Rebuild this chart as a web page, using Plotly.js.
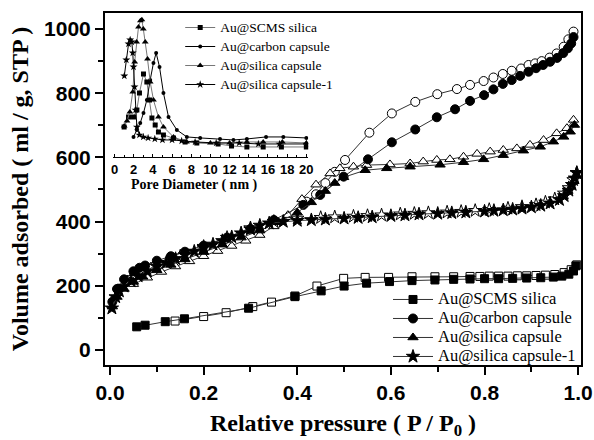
<!DOCTYPE html>
<html><head><meta charset="utf-8">
<script src="https://cdn.plot.ly/plotly-3.0.1.min.js"></script>
<style>html,body{margin:0;padding:0;background:#fff}#chart{width:594px;height:440px}</style>
</head><body><div id="chart"></div><script>
// ---- Main isotherms (relative pressure P/P0, volume adsorbed ml/g STP) ----
const seriesNames = ["Au@SCMS silica","Au@carbon capsule","Au@silica capsule","Au@silica capsule-1"];

const scmsAdsX = [0.057,0.075,0.118,0.159,0.296,0.395,0.451,0.5,0.548,0.597,0.645,0.694,0.734,0.769,0.80,0.83,0.86,0.89,0.92,0.947,0.965,0.98,0.99,0.995];
const scmsAdsY = [72,77,88,97,130,166,184,199,208,213,216,218,220,221,222,222,223,224,225,227,230,236,246,262];
const scmsDesX = [0.139,0.2,0.248,0.305,0.345,0.395,0.442,0.499,0.545,0.595,0.645,0.694,0.734,0.769,0.79,0.81,0.83,0.85,0.87,0.89,0.91,0.93,0.95,0.97,0.985,0.997];
const scmsDesY = [90,104,116,135,149,168,199,223,226,226,228,228,228,229,229,230,230,230,231,231,232,233,235,241,250,265];

const carbonAdsX = [0.005,0.015,0.03,0.05,0.063,0.075,0.1,0.13,0.16,0.2,0.25,0.3,0.35,0.413,0.449,0.499,0.551,0.602,0.652,0.698,0.737,0.769,0.799,0.819,0.839,0.858,0.876,0.894,0.91,0.925,0.94,0.955,0.968,0.978,0.985,0.99];
const carbonAdsY = [150,190,220,245,256,263,278,292,306,325,350,377,405,452,483,540,594,647,687,725,750,776,794,812,829,841,854,867,878,888,898,910,925,940,955,975];
const carbonDesX = [0.42,0.44,0.46,0.48,0.502,0.554,0.602,0.652,0.699,0.741,0.769,0.798,0.819,0.839,0.858,0.878,0.894,0.908,0.922,0.939,0.954,0.969,0.979,0.99];
const carbonDesY = [462,485,520,555,592,677,737,773,797,813,826,838,849,860,870,877,888,893,900,911,924,945,968,992];

const silicaAdsX = [0.005,0.015,0.03,0.05,0.07,0.1,0.13,0.16,0.2,0.24,0.28,0.32,0.36,0.4,0.43,0.46,0.48,0.499,0.545,0.591,0.641,0.705,0.755,0.798,0.84,0.883,0.919,0.947,0.969,0.983,0.992];
const silicaAdsY = [135,165,190,212,228,248,265,282,305,328,350,372,398,428,460,495,520,538,560,566,571,577,585,594,607,621,633,649,664,680,701];
const silicaDesX = [0.05,0.08,0.11,0.14,0.17,0.2,0.23,0.26,0.29,0.32,0.35,0.38,0.41,0.44,0.47,0.491,0.52,0.548,0.598,0.641,0.669,0.698,0.726,0.755,0.784,0.812,0.84,0.869,0.897,0.926,0.954,0.976,0.99];
const silicaDesY = [205,225,243,260,276,292,308,324,340,358,385,420,470,515,550,566,571,576,578,581,587,592,594,602,611,618,623,628,639,654,675,691,717];

const capsAdsX = [0.004,0.012,0.02,0.03,0.045,0.06,0.08,0.1,0.12,0.14,0.16,0.18,0.2,0.22,0.24,0.26,0.28,0.3,0.32,0.34,0.37,0.4,0.43,0.46,0.5,0.53,0.56,0.6,0.63,0.66,0.7,0.73,0.76,0.8,0.82,0.84,0.86,0.88,0.9,0.92,0.94,0.96,0.97,0.98,0.987,0.993,0.997];
const capsAdsY = [130,165,183,198,215,230,245,260,272,284,296,307,318,329,340,352,364,376,388,395,400,403,405,407,410,412,414,418,420,423,425,427,429,432,434,436,438,441,445,450,457,468,480,497,515,535,552];
const capsDesX = [0.05,0.1,0.15,0.2,0.25,0.3,0.35,0.4,0.45,0.48,0.52,0.55,0.58,0.62,0.65,0.68,0.72,0.75,0.78,0.81,0.85,0.88,0.91,0.93,0.95,0.97,0.98,0.99,0.997];
const capsDesY = [225,265,292,322,350,380,400,410,412,414,416,418,420,423,425,427,429,431,434,437,441,446,452,460,470,488,505,530,552];

// ---- Inset: pore size distribution (pore diameter nm, arbitrary units) ----
const psdScmsX = [1.0,1.46,1.98,2.33,2.6,3.02,3.37,3.65,3.9,4.24,4.58,5.1,6.15,7.36,8.58,10.8,12.2,13.8,15.5,17.4,20];
const psdScmsY = [30,40,40,47,64,83,75,57,39,32,25,22,19,15,14,13,11,10,10,10,10];
const psdCarbonX = [1.98,2.33,2.68,3.02,3.37,3.72,4.06,4.34,4.69,5.1,5.63,6.5,7.54,8.93,11,12.4,13.8,15.8,17.6,20];
const psdCarbonY = [20,27,34,44,57,77,94,104,90,64,40,27,20,19,18,17,18,20,20,19];
const psdSilicaX = [1.01,1.3,1.6,1.9,2.1,2.3,2.5,2.7,2.85,3.0,3.2,3.44,3.72,4.06,4.58,5.1,6.15,7.5,10,12,13.8,15.5,17.5,20];
const psdSilicaY = [31,36,45,65,95,115,130,136,137,128,115,98,75,57,40,30,20,15,14,14,15,15,15,14];
const psdCapsX = [1.02,1.23,1.46,1.63,1.8,1.9,1.98,2.08,2.19,2.33,2.6,3.0,3.5,4.2,5,6,7,8.4,10.6,13,15,17.2,20];
const psdCapsY = [81,97,113,117,115,104,90,70,47,30,22,20,19,18,17,17,16,15,14,14,13,13,13];

const symbols = ["square","circle","triangle-up","star"];
const mSizes = [8,9,9,10];
const lineCol = "#333";

function lbl(name, px) { return '<span style="font-size:' + px + 'px">' + name + '</span>'; }

function ads(x, y, i) {
  return {x, y, type:"scatter", mode:"lines+markers", name:lbl(seriesNames[i], 16.5), legend:"legend",
    line:{color:lineCol, width:1}, marker:{symbol:symbols[i], size:mSizes[i], color:"#000", line:{color:"#000", width:1}}};
}
function des(x, y, i) {
  return {x, y, type:"scatter", mode:"lines+markers", name:seriesNames[i], showlegend:false,
    line:{color:lineCol, width:1}, marker:{symbol:symbols[i], size:mSizes[i], color:"#fff", line:{color:"#000", width:1}}};
}
const insetCols = ["#777","#000","#777","#000"];
const insetSizes = [5,4,6,6];
function psd(x, y, i) {
  return {x, y, type:"scatter", mode:"lines+markers", name:lbl(seriesNames[i], 13.5), legend:"legend2",
    xaxis:"x2", yaxis:"y2",
    line:{color:insetCols[i], width:1}, marker:{symbol:symbols[i], size:insetSizes[i], color:"#000"}};
}

const data = [
  des(scmsDesX, scmsDesY, 0), des(carbonDesX, carbonDesY, 1), des(silicaDesX, silicaDesY, 2), des(capsDesX, capsDesY, 3),
  ads(scmsAdsX, scmsAdsY, 0), ads(carbonAdsX, carbonAdsY, 1), ads(silicaAdsX, silicaAdsY, 2), ads(capsAdsX, capsAdsY, 3),
  psd(psdScmsX, psdScmsY, 0), psd(psdCarbonX, psdCarbonY, 1), psd(psdSilicaX, psdSilicaY, 2), psd(psdCapsX, psdCapsY, 3)
];

const tickFont = {family:"Liberation Sans, Arial, sans-serif", size:21, weight:"bold", color:"#000"};
const titleFont = {family:"Liberation Serif, Times New Roman, serif", size:24, weight:"bold", color:"#000"};

const layout = {
  width:594, height:440,
  margin:{l:105, r:13, t:13, b:75},
  paper_bgcolor:"#fff", plot_bgcolor:"rgba(0,0,0,0)",
  xaxis:{range:[-0.0107,1.006], tick0:0, dtick:0.2, tickformat:".1f", ticks:"outside", ticklen:8, tickwidth:2, tickcolor:"#000",
    minor:{ticks:"outside", dtick:0.1, ticklen:5, tickwidth:2, tickcolor:"#000"},
    showline:true, linewidth:2, linecolor:"#000", mirror:true, showgrid:false, zeroline:false,
    tickfont:tickFont, title:{text:"Relative pressure ( P / P<sub>0</sub> )", font:titleFont, standoff:17}},
  yaxis:{range:[-47,1050], tick0:0, dtick:200, ticks:"outside", ticklen:8, tickwidth:2, tickcolor:"#000",
    minor:{ticks:"outside", dtick:100, ticklen:5, tickwidth:2, tickcolor:"#000"},
    showline:true, linewidth:2, linecolor:"#000", mirror:true, showgrid:false, zeroline:false,
    tickfont:tickFont, title:{text:"Volume adsorbed ( ml / g, STP )", font:titleFont, standoff:9}},
  xaxis2:{domain:[0.017,0.427], anchor:"y2", range:[-0.15,20.2], tick0:0, dtick:2, ticks:"inside", ticklen:3, tickwidth:1, tickcolor:"#000",
    minor:{ticks:"inside", dtick:1, ticklen:2, tickwidth:1, tickcolor:"#000"},
    showline:true, linewidth:1, linecolor:"#000", showgrid:false, zeroline:false,
    tickfont:{family:"Liberation Sans, Arial, sans-serif", size:13, weight:"bold", color:"#000"}},
  yaxis2:{domain:[0.591,0.989], anchor:"x2", range:[0,140], visible:false},
  legend:{x:1, xanchor:"right", y:-0.017, yanchor:"bottom", bgcolor:"rgba(0,0,0,0)",
    font:{family:"Liberation Serif, Times New Roman, serif", size:11, color:"#000"}, itemwidth:40, tracegroupgap:0},
  legend2:{x:0.158, xanchor:"left", y:1.0, yanchor:"top", bgcolor:"rgba(0,0,0,0)",
    font:{family:"Liberation Serif, Times New Roman, serif", size:11, color:"#000"}, itemwidth:30, tracegroupgap:0},
  annotations:[{text:"Pore Diameter ( nm )", xref:"paper", yref:"paper", x:0.188, y:0.512, xanchor:"center", yanchor:"middle",
    showarrow:false, font:{family:"Liberation Serif, Times New Roman, serif", size:14, weight:"bold", color:"#000"}}]
};

Plotly.newPlot("chart", data, layout, {displayModeBar:false, staticPlot:true});
</script></body></html>
